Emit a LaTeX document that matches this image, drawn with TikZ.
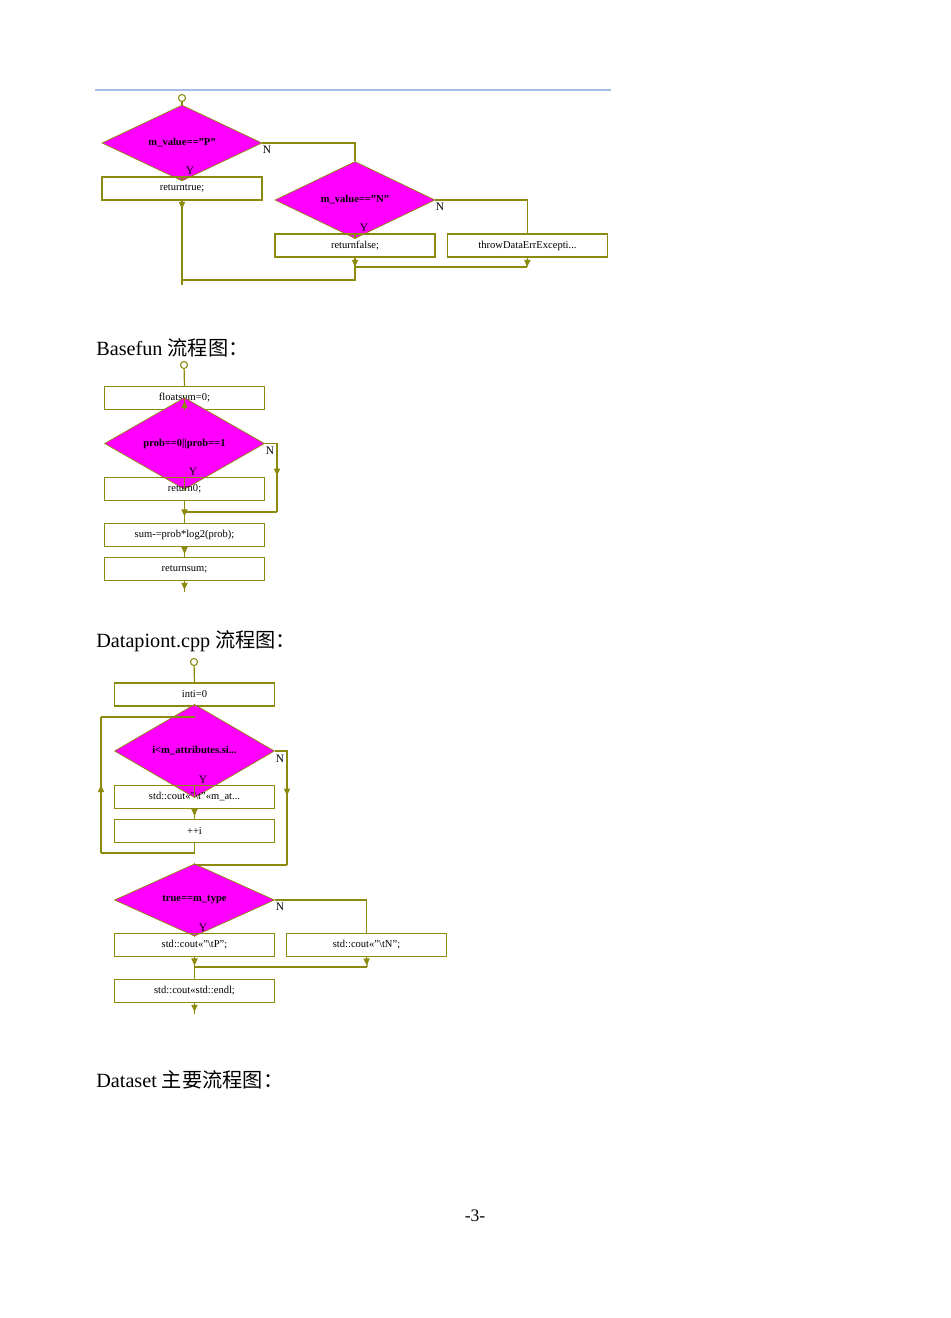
\documentclass[tikz,border=0pt]{standalone}
\usepackage{fontspec}
\setmainfont{Liberation Serif}
\newfontfamily\cjk{Noto Sans CJK SC}
\usetikzlibrary{shapes.geometric,arrows.meta,decorations.markings}
\definecolor{ol}{HTML}{8C8A0C}
\definecolor{mg}{HTML}{FF00FF}
\definecolor{bl}{HTML}{A8BCE8}
\begin{document}
\begin{tikzpicture}[x=0.02cm,y=-0.02cm,
 box/.style={draw=ol,line width=0.6pt,rectangle,minimum width=3.2cm,minimum height=0.46cm,inner sep=0,font=\fontsize{6}{7}\selectfont},
 dia/.style={draw=ol,fill=mg,diamond,line width=0.4pt,minimum width=3.2cm,minimum height=0.88cm,inner sep=0,font=\bfseries\fontsize{6}{7}\selectfont},
 ln/.style={draw=ol,line width=0.7pt},
 ar/.style={ln,postaction={decorate},decoration={markings,mark=at position #1 with {\arrow{Triangle[length=4pt,width=3.5pt]}}}},
 ar/.default=0.5,
 st/.style={draw=ol,circle,fill=white,inner sep=0,minimum size=4pt,line width=0.6pt},
 lb/.style={font=\fontsize{6.5}{7}\selectfont,inner sep=0},
 hd/.style={font=\fontsize{11.5}{13}\selectfont,anchor=west,inner sep=0}]
\useasboundingbox (0,0) rectangle (950,1318);
\draw[bl,line width=0.6pt] (95,90) -- (611,90);
% diagram 1
\node[st] (s1) at (182,98) {};
\node[dia] (d1) at (182,143) {m\_value=="P"};
\node[box] (b1) at (182,188.5) {returntrue;};
\node[dia] (d2) at (355,200) {m\_value=="N"};
\node[box] (b2) at (355,245.5) {returnfalse;};
\node[box] (b3) at (527.5,245.5) {throwDataErrExcepti...};
\coordinate (m1) at (355,267); \coordinate (m2) at (527,267);
\coordinate (m3) at (355,280); \coordinate (m4) at (182,280); \coordinate (e1) at (182,285);
\draw[ln] (s1) -- (d1.north);
\draw[ln] (d1.south) -- (b1.north);
\draw[ln] (d1.east) -| (d2.north);
\draw[ln] (d2.south) -- (b2.north);
\draw[ln] (d2.east) -| (b3.north);
\draw[ar=0.99] (b2.south) -- (m1);
\draw[ar=0.99] (b3.south) -- (m2);
\draw[ln] (m1) -- (m2);
\draw[ln] (m1) -- (m3) -- (m4);
\draw[ar=0.1] (b1.south) -- (e1);
\node[lb] at (190,171) {Y}; \node[lb] at (267,150) {N};
\node[lb] at (364,228) {Y}; \node[lb] at (440,207) {N};
% heading
\node[hd] (h1) at (96,348) {Basefun {\cjk 流程图：}};
% diagram 2
\node[st] (s2) at (184,365) {};
\node[box] (c1) at (184.5,398) {floatsum=0;};
\node[dia] (c2) at (184.5,443.5) {prob==0||prob==1};
\node[box] (c3) at (184.5,489) {return0;};
\node[box] (c4) at (184.5,535) {sum-=prob*log2(prob);};
\node[box] (c5) at (184.5,569) {returnsum;};
\coordinate (n1) at (277,512); \coordinate (n2) at (184.5,512); \coordinate (e2) at (184.5,592);
\draw[ln] (s2) -- (c1.north);
\draw[ar=0.7] (c1.south) -- (c2.north);
\draw[ln] (c2.south) -- (c3.north);
\draw[ar=0.55] (c2.east) -| (n1);
\draw[ln] (n1) -- (n2);
\draw[ar=0.7] (c3.south) -- (c4.north);
\draw[ar=0.7] (c4.south) -- (c5.north);
\draw[ar=0.8] (c5.south) -- (e2);
\node[lb] at (193,472) {Y}; \node[lb] at (270,451) {N};
\node[hd] (h2) at (96,641) {Datapiont.cpp {\cjk 流程图：}};
% diagram 3
\node[st] (s3) at (194,662) {};
\node[box] (a1) at (194.5,694.5) {inti=0};
\node[dia] (a2) at (194.5,751) {i<m\_attributes.si...};
\node[box] (a3) at (194.5,797) {std::cout<<"\textbackslash t"<<m\_at...};
\node[box] (a4) at (194.5,831) {++i};
\coordinate (l1) at (194.5,853); \coordinate (l2) at (101,853); \coordinate (l3) at (101,717); \coordinate (l4) at (194.5,717);
\coordinate (r1) at (287,865); \coordinate (r2) at (194.5,865);
\draw[ln] (s3) -- (a1.north);
\draw[ln] (a1.south) -- (a2.north);
\draw[ln] (a2.south) -- (a3.north);
\draw[ar=0.7] (a3.south) -- (a4.north);
\draw[ln] (a4.south) -- (l1) -- (l2);
\draw[ar=0.5] (l2) -- (l3);
\draw[ln] (l3) -- (l4);
\draw[ar=0.45] (a2.east) -| (r1);
\draw[ln] (r1) -- (r2);
\node[dia] (a5) at (194.5,900) {true==m\_type};
\node[box] (a6) at (194.5,945) {std::cout<<"\textbackslash tP";};
\node[box] (a7) at (366.5,945) {std::cout<<"\textbackslash tN";};
\node[box] (a8) at (194.5,991) {std::cout<<std::endl;};
\coordinate (k1) at (194.5,967); \coordinate (k2) at (367,967); \coordinate (e3) at (194.5,1014);
\draw[ln] (r2) -- (a5.north);
\draw[ln] (a5.south) -- (a6.north);
\draw[ln] (a5.east) -| (a7.north);
\draw[ar=0.85] (a6.south) -- (k1);
\draw[ar=0.85] (a7.south) -- (k2);
\draw[ln] (k1) -- (k2);
\draw[ln] (k1) -- (a8.north);
\draw[ar=0.8] (a8.south) -- (e3);
\node[lb] at (203,780) {Y}; \node[lb] at (280,759) {N};
\node[lb] at (203,928) {Y}; \node[lb] at (280,907) {N};
\node[hd] (h3) at (96,1080) {Dataset {\cjk 主要流程图：}};
\node[font=\fontsize{10}{12}\selectfont] (pg) at (475,1216) {-3-};
\end{tikzpicture}
\end{document}
